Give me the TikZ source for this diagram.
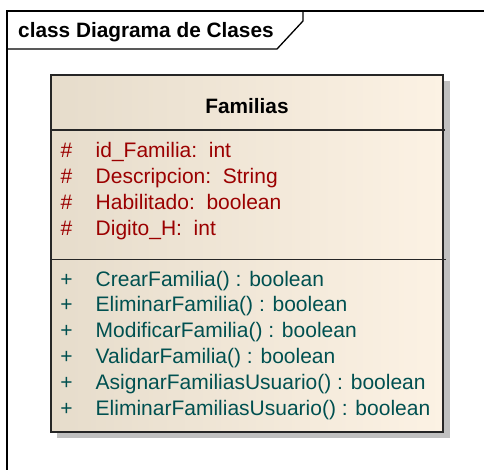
\documentclass[tikz,border=0pt]{standalone}
\usepackage{fontspec}
\setmainfont{Liberation Sans}
\definecolor{attrred}{RGB}{155,0,0}
\definecolor{opteal}{RGB}{0,80,80}
\definecolor{beigeL}{RGB}{230,220,203}
\definecolor{beigeR}{RGB}{252,242,228}
\definecolor{shadowgray}{RGB}{192,192,192}
\begin{document}
\begin{tikzpicture}[x=1bp,y=-1bp,
  frameline/.style={draw=black,line width=1.3bp},
  boxline/.style={draw=black!85,line width=1.8bp},
  txt/.style={inner sep=0pt,anchor=base west,font=\fontsize{21bp}{24bp}\selectfont},
  sym/.style={inner sep=0pt,anchor=base,font=\fontsize{21bp}{24bp}\selectfont},
  attr/.style={txt,text=attrred},
  attrsym/.style={sym,text=attrred},
  op/.style={txt,text=opteal},
  opsym/.style={sym,text=opteal}]
\useasboundingbox (0,0) rectangle (484,470);
\fill[white] (0,0) rectangle (484,470);
% frame
\draw[frameline] (7,470) -- (7,11) -- (484,11);
\draw[frameline] (7,49) -- (277,49) -- (303,21) -- (303,11);
\node[txt,font=\bfseries\fontsize{20.8bp}{24bp}\selectfont] (title) at (18,37.5) {class Diagrama de Clases};
% shadow
\fill[shadowgray] (57,81) rectangle (450,438);
% class box
\shade[left color=beigeL,right color=beigeR] (51,75) rectangle (443,432);
\draw[boxline] (51,75) rectangle (443,432);
\draw[boxline] (51,130) -- (445,130);
\draw[boxline] (51,259.5) -- (446,259.5);
\node[sym,font=\bfseries\fontsize{20.8bp}{24bp}\selectfont] (cname) at (247,114) {Familias};
% attributes
\foreach \y/\t [count=\i] in {158/{id\_Familia:\ \ int},184/{Descripcion:\ \ String},209.5/{Habilitado:\ \ boolean},235.5/{Digito\_H:\ \ int}}{
  \node[attrsym] (avis\i) at (66.5,\y) {\#};
  \node[attr] (attr\i) at (95.5,\y) {\t};
}
% operations
\foreach \y/\t [count=\i] in {286/{CrearFamilia() : boolean},311.8/{EliminarFamilia() : boolean},337.6/{ModificarFamilia() : boolean},363.4/{ValidarFamilia() : boolean},389.2/{AsignarFamiliasUsuario() : boolean},415/{EliminarFamiliasUsuario() : boolean}}{
  \node[opsym] (ovis\i) at (66.5,\y) {+};
  \node[op] (op\i) at (95.5,\y) {\t};
}
\end{tikzpicture}
\end{document}
